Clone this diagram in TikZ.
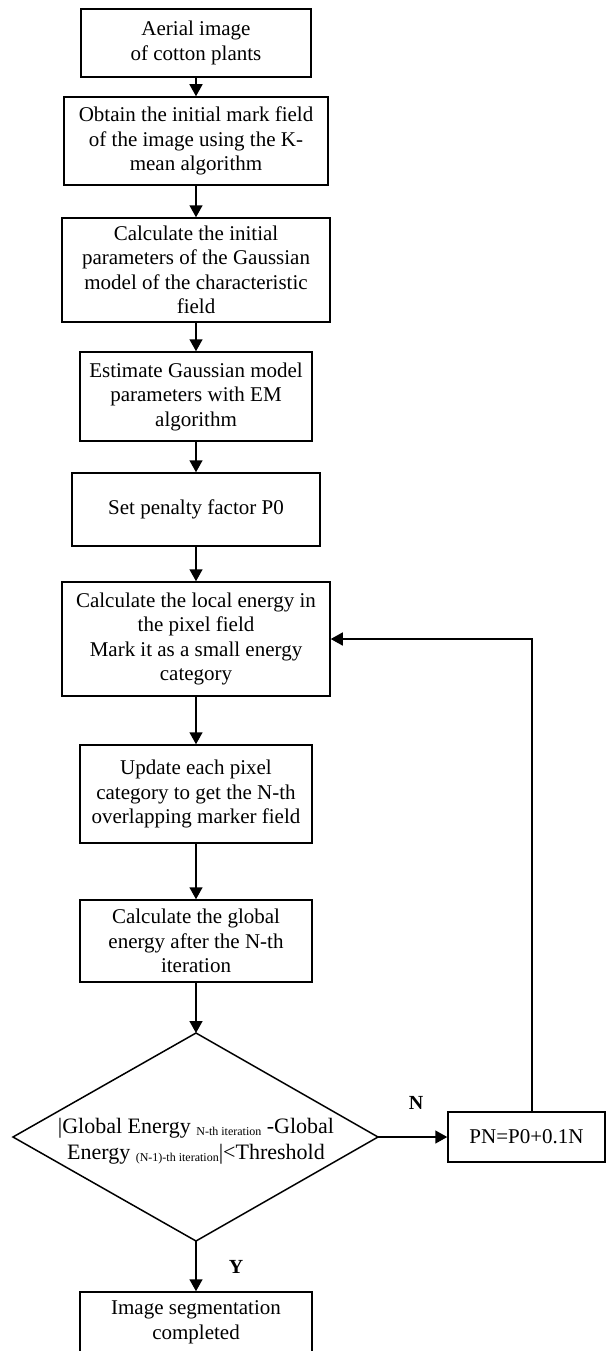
\documentclass[tikz,border=0pt]{standalone}
\usepackage{fontspec}
\setmainfont{Liberation Serif}
\usetikzlibrary{arrows.meta}
\newcommand{\subtxt}[1]{\raisebox{-2pt}{\fontsize{12}{12}\selectfont #1}}
\begin{document}
\begin{tikzpicture}[x=1pt,y=-1pt,
  box/.style={draw, line width=1.5pt, inner sep=0pt, align=center,
    font=\fontsize{21}{24.5}\selectfont},
  arr/.style={line width=1.5pt, -{Triangle[length=12pt,width=13pt]}},
  lbl/.style={font=\fontsize{20}{22}\selectfont\bfseries, inner sep=0pt}]
\useasboundingbox (0,0) rectangle (606,1351);
\node[box, minimum width=230pt, minimum height=68pt] (b1) at (196,43) {Aerial image\\of cotton plants};
\node[box, minimum width=264pt, minimum height=88pt] (b2) at (196,141) {Obtain the initial mark field\\of the image using the K-\\mean algorithm};
\node[box, minimum width=268pt, minimum height=104pt] (b3) at (196,270) {Calculate the initial\\parameters of the Gaussian\\model of the characteristic\\field};
\node[box, minimum width=232pt, minimum height=89pt] (b4) at (196,396.5) {Estimate Gaussian model\\parameters with EM\\algorithm};
\node[box, minimum width=248pt, minimum height=73pt] (b5) at (196,509.5) {Set penalty factor P0};
\node[box, minimum width=268pt, minimum height=114pt] (b6) at (196,639) {Calculate the local energy in\\the pixel field\\Mark it as a small energy\\category};
\node[box, minimum width=232pt, minimum height=98pt] (b7) at (196,794) {Update each pixel\\category to get the N-th\\overlapping marker field};
\node[box, minimum width=232pt, minimum height=82pt] (b8) at (196,941) {Calculate the global\\energy after the N-th\\iteration};
\coordinate (dt) at (196,1033);
\coordinate (dr) at (378,1137);
\coordinate (db) at (196,1241);
\coordinate (dl) at (13,1137);
\draw[line width=1.5pt] (dt) -- (dr) -- (db) -- (dl) -- cycle;
\node[align=center, inner sep=0pt, font=\fontsize{22}{26}\selectfont] (dtext) at (196,1141)
  {\textbar Global Energy \subtxt{N-th iteration} -Global\\Energy \subtxt{(N-1)-th iteration}\textbar<Threshold};
\node[box, minimum width=157pt, minimum height=50pt] (pn) at (526.5,1137) {PN=P0+0.1N};
\node[box, minimum width=232pt, minimum height=61pt] (b9) at (196,1322.5) {Image segmentation\\completed};
\node[lbl] (nl) at (416,1103) {N};
\node[lbl] (yl) at (236,1267) {Y};
\coordinate (fb) at (532,639);
\draw[arr] (b1) -- (b2);
\draw[arr] (b2) -- (b3);
\draw[arr] (b3) -- (b4);
\draw[arr] (b4) -- (b5);
\draw[arr] (b5) -- (b6);
\draw[arr] (b6) -- (b7);
\draw[arr] (b7) -- (b8);
\draw[arr] (b8) -- (dt);
\draw[arr] (dr) -- (pn.west);
\draw[arr] (db) -- (b9);
\draw[arr] (pn.north -| fb) -- (fb) -- (b6.east);
\end{tikzpicture}
\end{document}
